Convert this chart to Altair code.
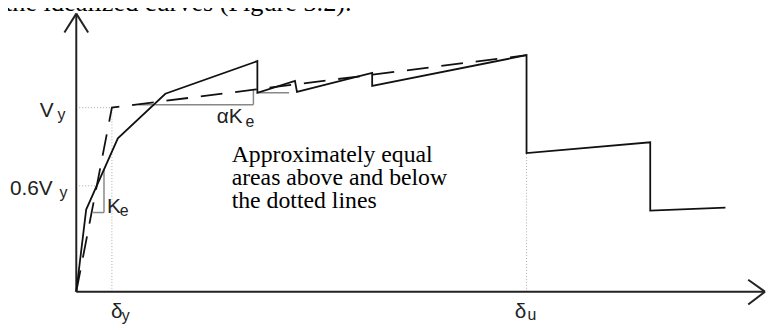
import altair as alt
import pandas as pd

# ---- data (displacement / force in arbitrary drawing units, origin at axes corner) ----
cap_x = [0, 10, 42, 90, 183, 183, 221, 223, 299, 299, 455, 455, 580, 580, 656]
cap_y = [0, 83, 155, 200, 233, 201, 213, 202, 221, 208, 239, 140, 151, 82, 85]

ideal_x = [0, 36, 455]
ideal_y = [0, 186, 239]

# axis lines with arrowheads (x, y, x2, y2)
axis_segs = [
    (0, 0, 0, 281), (0, 281, -12, 262), (0, 281, 12, 262),
    (0, 0, 696, 0), (696, 0, 679, 12), (696, 0, 679, -13),
]
# dotted reference lines
dotted_segs = [
    (3, 186, 36, 186), (36, 0, 36, 186),
    (3, 107, 21, 107),
    (455, 0, 455, 140),
]
# grey slope triangles
slope_segs = [
    (17, 80, 28, 80), (28, 80, 28, 123),
    (63, 189, 179, 189), (179, 189, 179, 204),
    (183, 201, 215, 201),
]

main_labels = ["V", "0.6V", "K", "αK", "δ", "δ"]
main_lx = [-37, -67, 31, 142, 35, 443]
main_ly = [177, 98, 80, 170, -27, -27]
sub_labels = ["y", "y", "e", "e", "y", "u"]
sub_lx = [-19, -17, 44, 171, 46, 456]
sub_ly = [174, 95, 76, 166, -30, -29]

note_lines = ["Approximately equal", "areas above and below", "the dotted lines"]
note_x = [157, 157, 157]
note_y = [131, 108, 85]

top_text = ["the idealized curves (Figure 3.2)."]
top_x = [-72]
top_y = [283.5]

# ---- scales ----
XS = alt.Scale(domain=[-69, 698], nice=False, zero=False)
YS = alt.Scale(domain=[-34, 285], nice=False, zero=False)

def X(f="x"):
    return alt.X(f"{f}:Q", scale=XS, axis=None)

def Y(f="y"):
    return alt.Y(f"{f}:Q", scale=YS, axis=None)

def seg_df(segs):
    return pd.DataFrame(segs, columns=["x", "y", "x2", "y2"])

cap_df = pd.DataFrame({"x": cap_x, "y": cap_y, "i": range(len(cap_x))})
ideal_df = pd.DataFrame({"x": ideal_x, "y": ideal_y, "i": range(len(ideal_x))})

capacity = alt.Chart(cap_df).mark_line(color="#111", strokeWidth=1.8).encode(
    x=X(), y=Y(), order="i:Q")
ideal = alt.Chart(ideal_df).mark_line(color="#111", strokeWidth=1.8, strokeDash=[22, 13]).encode(
    x=X(), y=Y(), order="i:Q")

def rules(segs, **kw):
    return alt.Chart(seg_df(segs)).mark_rule(**kw).encode(
        x=X(), y=Y(), x2="x2:Q", y2="y2:Q")

axes = rules(axis_segs, color="#222", strokeWidth=2)
dotted = rules(dotted_segs, color="#aaa", strokeWidth=1, strokeDash=[1, 2])
slopes = rules(slope_segs, color="#888", strokeWidth=1.5)

main_df = pd.DataFrame({"x": main_lx, "y": main_ly, "t": main_labels})
sub_df = pd.DataFrame({"x": sub_lx, "y": sub_ly, "t": sub_labels})
note_df = pd.DataFrame({"x": note_x, "y": note_y, "t": note_lines})
top_df = pd.DataFrame({"x": top_x, "y": top_y, "t": top_text})

main_txt = alt.Chart(main_df).mark_text(align="left", baseline="alphabetic",
    font="Liberation Sans", fontSize=21, color="#222").encode(x=X(), y=Y(), text="t:N")
sub_txt = alt.Chart(sub_df).mark_text(align="left", baseline="alphabetic",
    font="Liberation Sans", fontSize=16, color="#222").encode(x=X(), y=Y(), text="t:N")
note_txt = alt.Chart(note_df).mark_text(align="left", baseline="alphabetic",
    font="Liberation Serif", fontSize=24, color="#000").encode(x=X(), y=Y(), text="t:N")
top_txt = alt.Chart(top_df).mark_text(align="left", baseline="alphabetic",
    font="Liberation Serif", fontSize=26.5, color="#000").encode(x=X(), y=Y(), text="t:N")

chart = alt.layer(dotted, slopes, axes, ideal, capacity, main_txt, sub_txt, note_txt, top_txt).properties(
    width=767, height=319, padding=0,
    autosize=alt.AutoSizeParams(type="none"),
).configure_view(stroke=None)

chart.save("out.html", embed_options={"renderer": "svg", "actions": False})
